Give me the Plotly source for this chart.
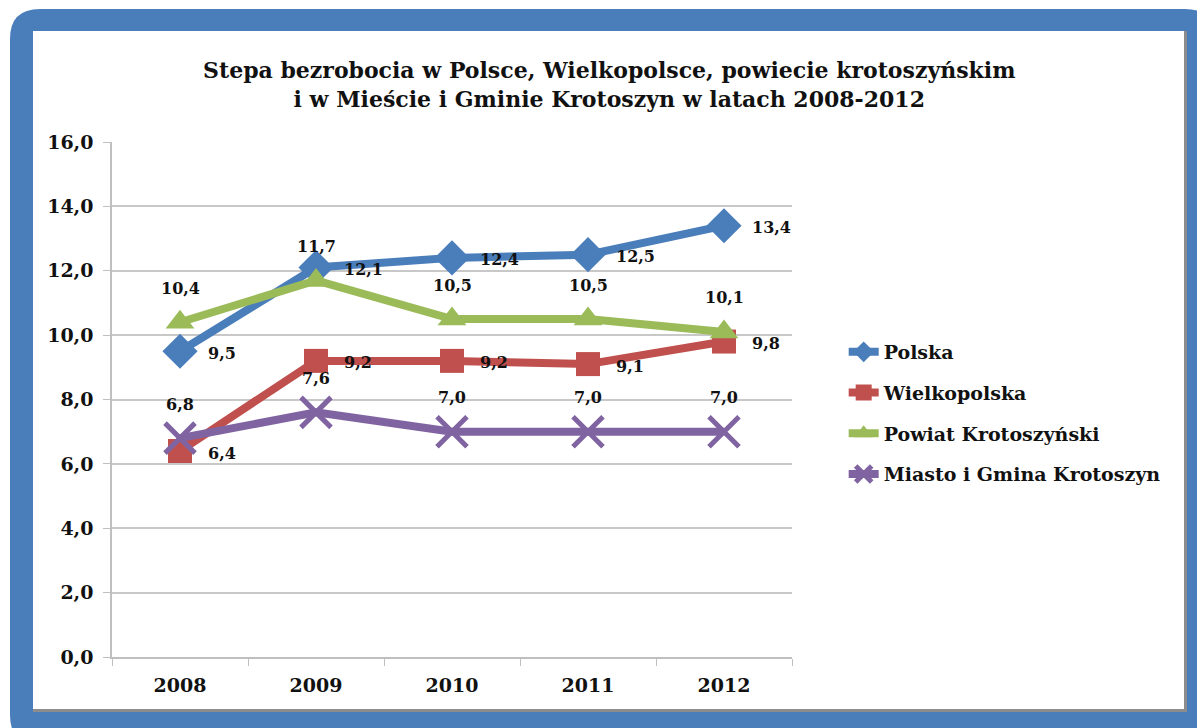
import plotly.graph_objects as go

lata = ['2008', '2009', '2010', '2011', '2012']
polska = [9.5, 12.1, 12.4, 12.5, 13.4]
wielkopolska = [6.4, 9.2, 9.2, 9.1, 9.8]
powiat = [10.4, 11.7, 10.5, 10.5, 10.1]
miasto = [6.8, 7.6, 7.0, 7.0, 7.0]

FONT = 'DejaVu Serif'

# plot area in pixels, used to place the frame shapes
PX0, PX1, PY0, PY1 = 112, 792, 142, 657


def fx(px):
    return (px - PX0) / (PX1 - PX0)


def fy(py):
    return (PY1 - py) / (PY1 - PY0)


def rounded_path(x0, y0, x1, y1, r):
    p = [
        f"M {fx(x0 + r)} {fy(y0)}",
        f"L {fx(x1 - r)} {fy(y0)}",
        f"Q {fx(x1)} {fy(y0)} {fx(x1)} {fy(y0 + r)}",
        f"L {fx(x1)} {fy(y1 - r)}",
        f"Q {fx(x1)} {fy(y1)} {fx(x1 - r)} {fy(y1)}",
        f"L {fx(x0 + r)} {fy(y1)}",
        f"Q {fx(x0)} {fy(y1)} {fx(x0)} {fy(y1 - r)}",
        f"L {fx(x0)} {fy(y0 + r)}",
        f"Q {fx(x0)} {fy(y0)} {fx(x0 + r)} {fy(y0)}",
        "Z",
    ]
    return " ".join(p)


serie = [
    ('Polska', polska, '#4A7EBB', 'diamond', 27, 'right'),
    ('Wielkopolska', wielkopolska, '#C0504D', 'square', 24, 'right'),
    ('Powiat Krotoszyński', powiat, '#9BBB59', 'triangle-up', 25, 'top'),
    ('Miasto i Gmina Krotoszyn', miasto, '#8064A2', 'x-thin', 30, 'top'),
]

fig = go.Figure()

for nazwa, wartosci, kolor, symbol, rozmiar, poz in serie:
    fig.add_trace(go.Scatter(
        x=lata, y=wartosci, name=nazwa, mode='lines+markers',
        legendgroup=nazwa,
        line=dict(color=kolor, width=8),
        marker=dict(symbol=symbol, size=rozmiar, color=kolor,
                    line=dict(color=kolor, width=5 if symbol == 'x-thin' else 0)),
        hoverinfo='skip',
    ))
    # etykiety danych (category axis -> index positions)
    for i, v in enumerate(wartosci):
        tekst = f"{v:.1f}".replace('.', ',')
        if poz == 'right':
            fig.add_annotation(x=i, y=v, text=tekst, showarrow=False,
                               xanchor='left', xshift=26, yshift=-2,
                               font=dict(family=FONT, size=16, color='#111111', weight='bold'))
        else:
            fig.add_annotation(x=i, y=v, text=tekst, showarrow=False,
                               yshift=34,
                               font=dict(family=FONT, size=16, color='#111111', weight='bold'))

# blue rounded frame with a white inner panel
fig.add_shape(type='path', xref='paper', yref='paper', layer='below',
              path=rounded_path(10, 9, 1215, 745, 30),
              fillcolor='#4A7EBB', line=dict(width=0))
fig.add_shape(type='rect', xref='paper', yref='paper', layer='below',
              x0=fx(33), x1=fx(1187), y0=fy(31), y1=fy(712),
              fillcolor='#8C8C8C', line=dict(width=0))
fig.add_shape(type='rect', xref='paper', yref='paper', layer='below',
              x0=fx(33), x1=fx(1184), y0=fy(31), y1=fy(709),
              fillcolor='white', line=dict(width=0))

fig.update_layout(
    width=1197, height=728,
    margin=dict(l=PX0, r=1197 - PX1, t=PY0, b=728 - PY1),
    paper_bgcolor='white',
    plot_bgcolor='rgba(0,0,0,0)',
    separators=', ',
    font=dict(family=FONT, color='#111111'),
    title=dict(
        text='Stepa bezrobocia w Polsce, Wielkopolsce, powiecie krotoszyńskim'
             '<br>i w Mieście i Gminie Krotoszyn w latach 2008-2012',
        x=0.509, xanchor='center', y=1 - 78 / 728, yanchor='top',
        font=dict(family=FONT, size=22, color='#111111', weight='bold'),
    ),
    legend=dict(
        x=1.076, y=fy(413), xanchor='left', yanchor='middle',
        font=dict(family=FONT, size=19, color='#111111', weight='bold'),
        tracegroupgap=13, bgcolor='rgba(0,0,0,0)',
    ),
    showlegend=True,
)

fig.update_xaxes(
    type='category', range=[-0.5, 4.5], showgrid=False,
    showline=True, linecolor='#BFBFBF', linewidth=1.5,
    ticks='outside', tickson='boundaries', ticklen=7, tickcolor='#BFBFBF',
    ticklabelstandoff=10,
    tickfont=dict(family=FONT, size=19, color='#111111', weight='bold'),
)
fig.update_yaxes(
    range=[0, 16], dtick=2, tickformat='.1f',
    showgrid=True, gridcolor='#C8C8C8', gridwidth=1.5, zeroline=False,
    showline=True, linecolor='#BFBFBF', linewidth=1.5,
    ticks='outside', ticklen=7, tickcolor='#BFBFBF',
    ticklabelstandoff=6,
    tickfont=dict(family=FONT, size=19, color='#111111', weight='bold'),
)

fig.write_html('out.html', config={'displayModeBar': False},
               post_script="document.body.style.margin='0';")
